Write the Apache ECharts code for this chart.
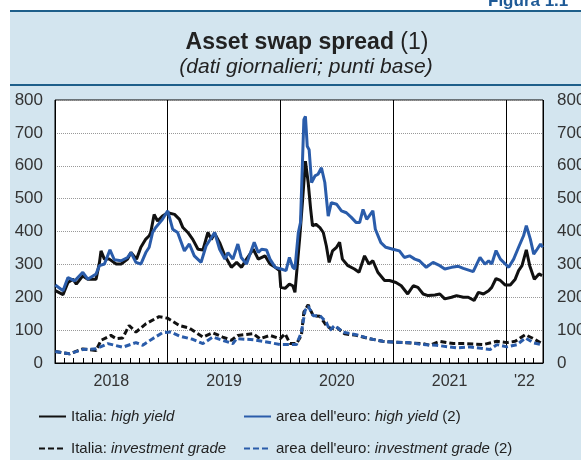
<!DOCTYPE html>
<html lang="it">
<head>
<meta charset="UTF-8">
<title>Asset swap spread</title>
<script src="https://cdn.jsdelivr.net/npm/echarts@6.0.0/dist/echarts.min.js"></script>
<style>
  body { margin: 0; background: #fff; }
  #panel { position: absolute; left: 10px; top: 10px; width: 571px; height: 450px; background: #d3e5ef; border-top: 2px solid #1e5f8a; box-sizing: border-box; }
  #rule { position: absolute; left: 10px; top: 84px; width: 571px; height: 2px; background: #1e5f8a; }
  #chart { position: absolute; left: 0; top: 0; width: 581px; height: 460px; }
</style>
</head>
<body>
<div id="panel"></div>
<div id="rule"></div>
<div id="chart"></div>
<script>
// series names (legend)
var names = [
  'Italia: high yield',
  "area dell'euro: high yield (2)",
  'Italia: investment grade',
  "area dell'euro: investment grade (2)"
];
var yearLabels = ['2018', '2019', '2020', '2021', "'22"];

// Italia: high yield
var itHyDates = ['2018-01-02','2018-01-27','2018-02-12','2018-02-28','2018-03-11','2018-04-01','2018-04-17','2018-05-14','2018-05-25','2018-05-30',
  '2018-06-10','2018-06-26','2018-07-18','2018-08-03','2018-08-24','2018-09-04','2018-09-22','2018-10-06','2018-10-22','2018-11-02',
  '2018-11-07','2018-11-18','2018-11-29','2018-12-15','2019-01-01','2019-01-06','2019-01-23','2019-02-08','2019-02-19','2019-03-07',
  '2019-03-23','2019-04-09','2019-04-25','2019-05-11','2019-05-22','2019-06-02','2019-06-18','2019-07-05','2019-07-26','2019-08-12',
  '2019-08-28','2019-09-13','2019-10-05','2019-10-21','2019-11-12','2019-11-28','2019-12-15','2019-12-29','2020-01-02','2020-01-16',
  '2020-01-30','2020-02-10','2020-02-17','2020-02-25','2020-03-04','2020-03-13','2020-03-22','2020-03-31','2020-04-08','2020-04-14',
  '2020-04-25','2020-05-08','2020-05-19','2020-05-29','2020-06-07','2020-06-18','2020-07-01','2020-07-11','2020-07-20','2020-08-07',
  '2020-08-28','2020-09-12','2020-09-30','2020-10-14','2020-10-27','2020-11-12','2020-12-04','2020-12-20','2021-01-10','2021-01-27',
  '2021-02-17','2021-03-07','2021-03-22','2021-04-08','2021-04-24','2021-05-16','2021-06-01','2021-06-17','2021-07-09','2021-07-25',
  '2021-08-16','2021-09-01','2021-09-20','2021-10-04','2021-10-20','2021-11-06','2021-11-16','2021-11-30','2021-12-14','2021-12-30',
  '2022-01-15','2022-01-31','2022-02-11','2022-02-22','2022-03-08','2022-03-19','2022-04-03','2022-04-18','2022-04-28'];
var itHyValues = [220,208,245,255,240,265,255,255,306,341,
  316,316,301,301,316,336,316,352,377,387,
  397,452,432,447,457,463,452,437,412,397,
  376,346,344,397,376,394,366,326,291,306,
  291,316,346,316,326,301,291,281,230,227,
  240,235,215,301,387,498,614,549,468,417,
  422,412,397,356,306,341,352,367,316,296,
  286,276,326,301,311,276,251,251,245,235,
  210,235,230,210,205,207,210,195,200,205,
  200,200,190,215,210,220,230,257,251,237,
  237,255,281,296,344,296,255,271,266];

// area dell'euro: high yield
var eaHyDates = ['2018-01-02','2018-01-27','2018-02-12','2018-03-06','2018-04-01','2018-04-17','2018-05-14','2018-05-25','2018-06-10','2018-06-28',
  '2018-07-12','2018-08-03','2018-08-24','2018-09-04','2018-09-20','2018-10-06','2018-10-22','2018-11-02','2018-11-13','2018-11-23',
  '2018-12-15','2019-01-01','2019-01-06','2019-01-17','2019-02-02','2019-02-24','2019-03-12','2019-03-28','2019-04-19','2019-05-05',
  '2019-06-02','2019-06-18','2019-07-05','2019-07-15','2019-07-31','2019-08-16','2019-08-27','2019-09-13','2019-10-08','2019-10-21',
  '2019-11-01','2019-11-17','2019-11-28','2019-12-15','2020-01-03','2020-01-19','2020-01-30','2020-02-10','2020-02-17','2020-02-28',
  '2020-03-06','2020-03-13','2020-03-17','2020-03-22','2020-03-28','2020-04-03','2020-04-11','2020-04-22','2020-05-02','2020-05-13',
  '2020-05-24','2020-06-04','2020-06-14','2020-07-01','2020-07-17','2020-08-02','2020-08-18','2020-09-03','2020-09-14','2020-09-25',
  '2020-10-07','2020-10-27','2020-11-04','2020-11-22','2020-12-08','2020-12-31','2021-01-21','2021-02-06','2021-02-23','2021-03-12',
  '2021-03-27','2021-04-18','2021-05-10','2021-06-01','2021-06-17','2021-07-09','2021-07-31','2021-08-16','2021-09-17','2021-10-09',
  '2021-10-25','2021-11-06','2021-11-16','2021-11-30','2021-12-14','2021-12-30','2022-01-10','2022-01-26','2022-02-11','2022-02-27',
  '2022-03-08','2022-03-21','2022-04-01','2022-04-12','2022-04-23','2022-04-30'];
var eaHyValues = [237,220,260,250,276,255,271,296,301,344,
  314,311,321,336,306,301,336,352,397,412,
  437,463,457,407,397,341,362,326,306,356,
  397,346,316,336,316,362,321,301,367,336,
  346,344,316,291,286,281,321,291,286,397,
  427,629,740,750,659,649,549,569,574,594,
  549,447,488,483,463,457,443,427,427,467,
  437,463,407,366,352,346,341,321,326,316,
  311,291,306,296,286,291,294,288,278,321,
  301,311,301,342,316,301,291,316,352,387,
  418,377,331,346,362,352];

// Italia: investment grade
var itIgDates = ['2018-01-02','2018-02-17','2018-04-01','2018-05-14','2018-05-30','2018-07-01','2018-07-18','2018-08-08','2018-08-29','2018-09-20',
  '2018-10-22','2018-12-04','2019-01-01','2019-02-08','2019-03-12','2019-04-25','2019-05-27','2019-06-28','2019-07-26','2019-08-16',
  '2019-10-05','2019-10-26','2019-11-28','2019-12-31','2020-01-16','2020-02-01','2020-02-22','2020-03-09','2020-03-17','2020-03-31',
  '2020-04-16','2020-05-08','2020-05-29','2020-06-14','2020-07-01','2020-07-27','2020-09-03','2020-10-16','2020-11-28','2021-01-10',
  '2021-02-23','2021-04-08','2021-04-29','2021-06-01','2021-07-15','2021-08-27','2021-10-20','2021-12-03','2022-01-04','2022-01-31',
  '2022-03-05','2022-03-27','2022-04-28'];
var itIgValues = [35,28,43,38,69,84,74,76,114,94,
  119,141,136,114,106,79,92,79,69,84,
  89,74,84,74,89,59,59,84,155,177,
  144,142,114,104,109,89,84,74,66,63,
  61,59,54,66,59,59,56,66,62,66,
  86,76,59];

// area dell'euro: investment grade
var eaIgDates = ['2018-01-02','2018-02-17','2018-04-01','2018-05-14','2018-06-21','2018-08-08','2018-09-20','2018-10-12','2018-11-13','2018-12-15',
  '2019-01-11','2019-02-08','2019-03-23','2019-04-25','2019-05-27','2019-06-28','2019-07-31','2019-08-12','2019-10-05','2019-11-17',
  '2019-12-31','2020-02-22','2020-03-09','2020-03-21','2020-03-31','2020-04-16','2020-05-08','2020-05-29','2020-06-09','2020-06-25',
  '2020-07-22','2020-09-03','2020-10-16','2020-11-28','2021-01-10','2021-02-23','2021-04-08','2021-05-21','2021-07-25','2021-09-07',
  '2021-11-11','2021-12-03','2022-01-04','2022-02-06','2022-03-05','2022-04-01','2022-04-28'];
var eaIgValues = [35,28,41,43,59,48,62,54,74,92,
  94,82,72,59,79,69,59,74,71,64,
  56,56,94,160,173,144,144,124,99,114,
  94,86,74,66,63,62,56,54,46,49,
  41,56,49,56,76,61,56];

// date string -> fractional year
function toYear(d) {
  var dt = new Date(d + 'T00:00:00Z');
  var y = dt.getUTCFullYear();
  var start = Date.UTC(y, 0, 1), end = Date.UTC(y + 1, 0, 1);
  return y + (dt.getTime() - start) / (end - start);
}
function pairs(dates, values) {
  return dates.map(function (d, i) { return [toYear(d), values[i]]; });
}

var xMin = 2018;
var xMax = toYear('2022-05-01');
var monthTicks = [];
for (var y = 2018; y <= 2022; y++) {
  for (var m = 1; m <= 12; m++) {
    var v = toYear(y + '-' + (m < 10 ? '0' + m : m) + '-01');
    if (v > xMin && v < xMax) monthTicks.push(v);
  }
}
var labelPos = [2018.5, 2019.5, 2020.5, 2021.5, (2022 + xMax) / 2];

var FONT = "'Liberation Sans', Arial, sans-serif";
var BLACK = '#111111';
var BLUE = '#2a5caa';

var chart = echarts.init(document.getElementById('chart'));

function lineSeries(name, data, color, dashed) {
  return {
    name: name,
    type: 'line',
    data: data,
    symbol: 'none',
    smooth: false,
    lineStyle: { color: color, width: 3, type: dashed ? [6, 3] : 'solid' },
    itemStyle: { color: color },
    silent: true,
    animation: false
  };
}

function legendText(name) {
  return name.replace(/(high yield|investment grade)/, '{i|$1}');
}
var legendBase = {
  orient: 'vertical',
  padding: 0,
  itemWidth: 27,
  itemHeight: 14,
  itemGap: 17,
  top: 409,
  itemStyle: { opacity: 0 },
  formatter: legendText,
  textStyle: {
    fontFamily: FONT, fontSize: 15, color: '#222',
    rich: { i: { fontFamily: FONT, fontSize: 15, color: '#222', fontStyle: 'italic' } }
  }
};

var option = {
  animation: false,
  title: [
    {
      text: 'Figura 1.1',
      left: 483, top: -12,
      textStyle: { fontFamily: FONT, fontSize: 17, fontWeight: 'bold', color: '#1f5a96' }
    },
    {
      text: '{b|Asset swap spread} (1)',
      left: 302, top: 26, textAlign: 'center',
      textStyle: {
        fontFamily: FONT, fontSize: 23, fontWeight: 'normal', color: '#222',
        rich: { b: { fontFamily: FONT, fontSize: 23, fontWeight: 'bold', color: '#222' } }
      }
    },
    {
      text: '(dati giornalieri; punti base)',
      left: 301, top: 52, textAlign: 'center',
      textStyle: { fontFamily: FONT, fontSize: 21, fontWeight: 'normal', fontStyle: 'italic', color: '#222' }
    }
  ],
  legend: [
    Object.assign({}, legendBase, { left: 38, data: [names[0], names[2]] }),
    Object.assign({}, legendBase, { left: 243, data: [names[1], names[3]] })
  ],
  grid: {
    left: 55, right: 38, top: 100, bottom: 97,
    show: true, backgroundColor: '#fff', borderColor: '#000', borderWidth: 1,
    containLabel: false, outerBoundsMode: 'none'
  },
  xAxis: [
    {
      type: 'value', min: xMin, max: xMax,
      axisLine: { show: true, lineStyle: { color: '#000', width: 1 } },
      axisTick: { show: true, inside: true, length: 5, customValues: monthTicks, lineStyle: { color: '#000' } },
      axisLabel: {
        customValues: labelPos, margin: 11,
        fontFamily: FONT, fontSize: 16, color: '#333',
        formatter: function (v) { return yearLabels[Math.floor(v) - 2018]; }
      },
      splitLine: { show: false }
    },
    {
      type: 'value', min: xMin, max: xMax, interval: 1,
      axisLine: { show: false }, axisTick: { show: false }, axisLabel: { show: false },
      splitLine: { show: true, lineStyle: { color: '#000', width: 1 } }
    }
  ],
  yAxis: [
    {
      type: 'value', min: 0, max: 800, interval: 100, position: 'left',
      axisLine: { show: false }, axisTick: { show: false },
      axisLabel: { margin: 12, fontFamily: FONT, fontSize: 17, color: '#333' },
      splitLine: { show: true, lineStyle: { color: '#999', type: 'dotted', width: 1 } }
    },
    {
      type: 'value', min: 0, max: 800, interval: 100, position: 'right',
      axisLine: { show: false }, axisTick: { show: false },
      axisLabel: { margin: 14, fontFamily: FONT, fontSize: 17, color: '#333' },
      splitLine: { show: false }
    }
  ],
  series: [
    lineSeries(names[0], pairs(itHyDates, itHyValues), BLACK, false),
    lineSeries(names[1], pairs(eaHyDates, eaHyValues), BLUE, false),
    lineSeries(names[2], pairs(itIgDates, itIgValues), BLACK, true),
    lineSeries(names[3], pairs(eaIgDates, eaIgValues), BLUE, true)
  ]
};

chart.setOption(option);
</script>
</body>
</html>
